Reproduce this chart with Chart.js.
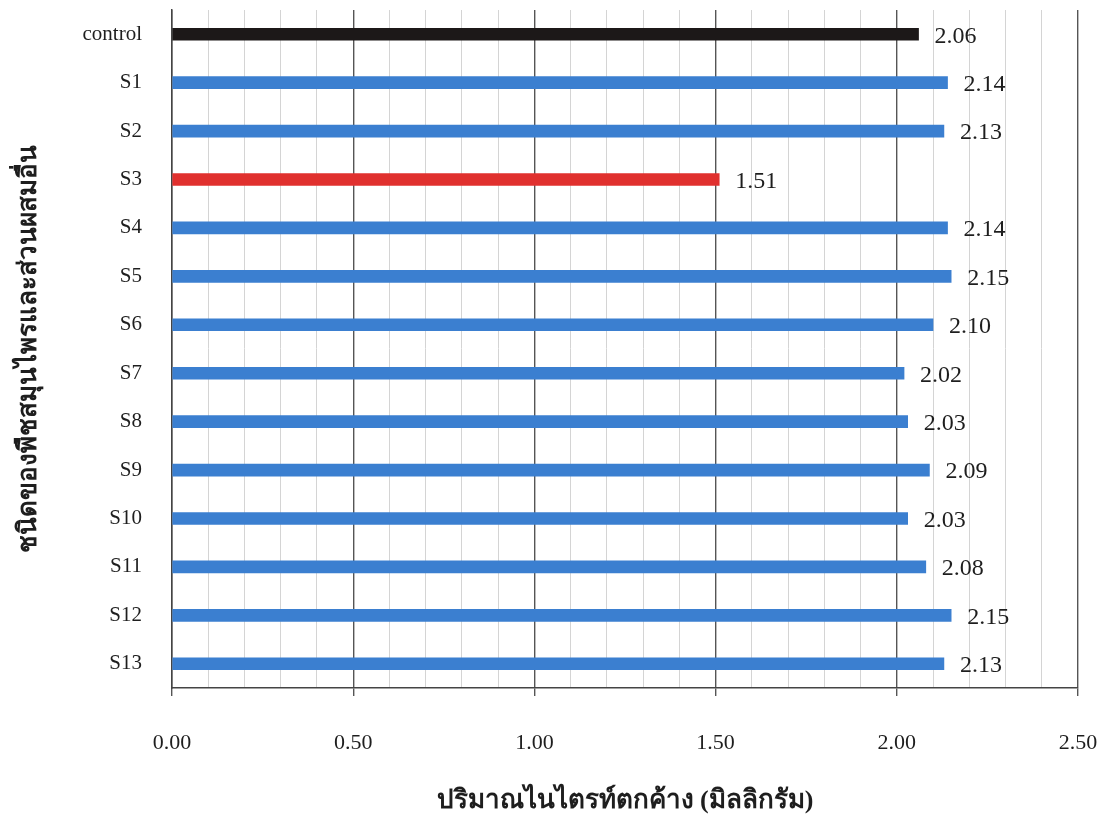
<!DOCTYPE html>
<html>
<head>
<meta charset="utf-8">
<script src="https://cdn.jsdelivr.net/npm/chart.js@4/dist/chart.umd.min.js"></script>
<style>
  html, body { margin: 0; padding: 0; background: #fff; }
  #wrap { width: 1109px; height: 814px; }
</style>
</head>
<body>
<div id="wrap"><canvas id="chart"></canvas></div>
<script>
'use strict';

const categories = ['control', 'S1', 'S2', 'S3', 'S4', 'S5', 'S6', 'S7', 'S8', 'S9', 'S10', 'S11', 'S12', 'S13'];
const nitrite_values = [2.06, 2.14, 2.13, 1.51, 2.14, 2.15, 2.10, 2.02, 2.03, 2.09, 2.03, 2.08, 2.15, 2.13];
const bar_colors = ['#1c1818', '#3b7fd0', '#3b7fd0', '#e0302e', '#3b7fd0', '#3b7fd0', '#3b7fd0',
                    '#3b7fd0', '#3b7fd0', '#3b7fd0', '#3b7fd0', '#3b7fd0', '#3b7fd0', '#3b7fd0'];
const x_title = 'ปริมาณไนไตรท์ตกค้าง (มิลลิกรัม)';
const y_title = 'ชนิดของพืชสมุนไพรและส่วนผสมอื่น';

const serif = '"Liberation Serif", "Times New Roman", serif';

// is this tick one of the 0.5 steps?
const isMajor = (v) => Math.abs(v * 2 - Math.round(v * 2)) < 1e-6;

// value text at the end of each bar
const valueLabels = {
  id: 'valueLabels',
  afterDatasetsDraw(chart) {
    const ctx = chart.ctx;
    const meta = chart.getDatasetMeta(0);
    ctx.save();
    ctx.font = '24px ' + serif;
    ctx.fillStyle = '#1e1e1e';
    ctx.textBaseline = 'middle';
    ctx.textAlign = 'left';
    meta.data.forEach((bar, i) => {
      ctx.fillText(nitrite_values[i].toFixed(2), bar.x + 16, bar.y + 2);
    });
    ctx.restore();
  }
};

new Chart(document.getElementById('chart'), {
  type: 'bar',
  data: {
    labels: categories,
    datasets: [{
      data: nitrite_values,
      backgroundColor: bar_colors,
      borderWidth: 0,
      barThickness: 12
    }]
  },
  options: {
    indexAxis: 'y',
    responsive: true,
    maintainAspectRatio: false,
    animation: false,
    layout: { padding: { top: 10, right: 31, bottom: 0, left: 0 } },
    plugins: {
      legend: { display: false },
      tooltip: { enabled: false }
    },
    scales: {
      x: {
        min: 0,
        max: 2.5,
        afterFit: (s) => {
          // keep the label padding from eating the chart area
          s.height = 126;
          s.paddingLeft = 0;
          s.paddingRight = 20;
        },
        ticks: {
          stepSize: 0.1,
          autoSkip: false,
          maxRotation: 0,
          padding: 34,
          color: '#1e1e1e',
          font: { family: serif, size: 22 },
          callback: (v) => isMajor(v) ? Number(v).toFixed(2) : ''
        },
        grid: {
          color: (c) => isMajor(c.tick.value) ? '#555' : '#d4d4d4',
          lineWidth: (c) => isMajor(c.tick.value) ? 1.4 : 1,
          tickColor: (c) => isMajor(c.tick.value) ? '#555' : 'rgba(0,0,0,0)',
          tickLength: 8
        },
        border: { display: true, color: '#444', width: 1.5 },
        title: {
          display: true,
          text: x_title,
          color: '#1e1e1e',
          font: { family: serif, size: 26, weight: 'bold' },
          padding: { top: 0, bottom: -3 }
        }
      },
      y: {
        afterFit: (s) => {
          s.width = 172;
          s.paddingTop = 0;
          s.paddingBottom = 0;
        },
        ticks: {
          color: '#1e1e1e',
          padding: 22,
          font: { family: serif, size: 21 }
        },
        grid: { display: false },
        border: { display: true, color: '#444', width: 1.5 },
        title: {
          display: true,
          text: y_title,
          color: '#1e1e1e',
          font: { family: serif, size: 26, weight: 'bold' },
          padding: { top: 14, bottom: 0 }
        }
      }
    }
  },
  plugins: [valueLabels]
});
</script>
</body>
</html>
